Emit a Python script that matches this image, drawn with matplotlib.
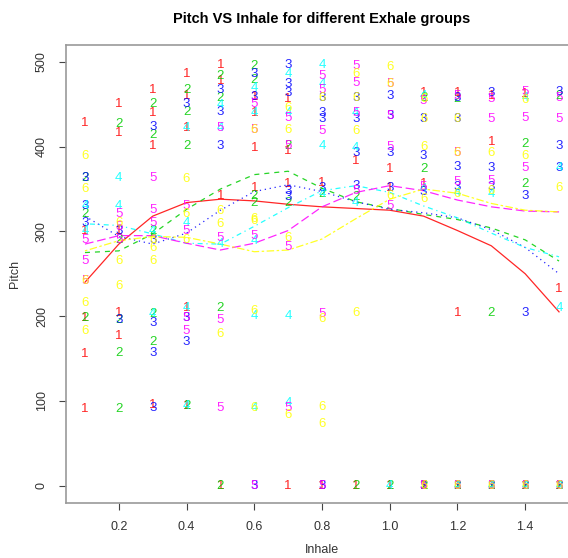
import matplotlib
matplotlib.use("Agg")
import matplotlib.pyplot as plt
import numpy as np

plt.rcParams['font.family'] = ['Liberation Sans', 'DejaVu Sans']

# pitch values per exhale group, keyed by inhale level
grp1 = {0.1: [428, 300, 198, 155, 90], 0.2: [450, 416, 300, 204, 176], 0.3: [467, 440, 401, 95],
        0.4: [486, 460, 422, 209, 94], 0.5: [496, 477, 342, 0], 0.6: [459, 440, 399, 351],
        0.7: [456, 395, 356, 0], 0.8: [357, 0], 0.9: [383, 0], 1.0: [374, 351, 0],
        1.1: [463, 356, 0], 1.2: [463, 204, 0], 1.3: [460, 405, 0], 1.4: [462, 0], 1.5: [232, 0]}
grp2 = {0.1: [363, 320, 198], 0.2: [427, 290, 195, 156, 90], 0.3: [450, 414, 300, 203, 169],
        0.4: [467, 441, 401, 94], 0.5: [483, 458, 210, 0], 0.6: [495, 479, 342, 333],
        0.7: [401, 333], 0.8: [344], 0.9: [340, 0], 1.0: [0], 1.1: [458, 374, 0],
        1.2: [456, 0], 1.3: [204, 0], 1.4: [403, 356, 0], 1.5: [460, 0]}
grp3 = {0.1: [363, 330, 310], 0.2: [300, 195], 0.3: [423, 290, 192, 156, 92],
        0.4: [450, 198, 169], 0.5: [467, 441, 401], 0.6: [486, 459, 0],
        0.7: [496, 474, 463, 348, 340], 0.8: [458, 440, 433, 351, 0], 0.9: [458, 433, 392, 354],
        1.0: [460, 436, 392, 351], 1.1: [433, 389, 346, 0], 1.2: [458, 433, 376, 352, 0],
        1.3: [463, 375, 352, 0], 1.4: [342, 204, 0], 1.5: [464, 401, 375, 0]}
grp4 = {0.1: [330, 300], 0.2: [363, 330], 0.3: [300, 203], 0.4: [422, 310, 209, 94],
        0.5: [449, 422, 285], 0.6: [469, 440, 289, 200, 92], 0.7: [486, 440, 200, 98],
        0.8: [496, 474, 401, 344], 0.9: [440, 399, 333], 1.0: [0], 1.1: [460, 350],
        1.2: [345, 0], 1.3: [344, 0], 1.4: [458, 0], 1.5: [375, 209, 0]}
grp5 = {0.1: [290, 265, 242], 0.2: [320, 305, 290], 0.3: [363, 325, 310], 0.4: [330, 300, 198, 182],
        0.5: [422, 292, 195, 91], 0.6: [450, 420, 295, 0], 0.7: [434, 401, 282, 92],
        0.8: [483, 467, 418, 203, 0], 0.9: [495, 475, 440, 348], 1.0: [474, 436, 400, 330],
        1.1: [454, 352, 0], 1.2: [460, 393, 358, 0], 1.3: [456, 433, 360, 0],
        1.4: [464, 434, 375, 0], 1.5: [458, 433, 0]}
grp6 = {0.1: [389, 350, 242, 216, 183], 0.2: [310, 265, 236], 0.3: [290, 280, 265],
        0.4: [362, 320, 290], 0.5: [324, 309, 179], 0.6: [420, 315, 312, 206, 92],
        0.7: [446, 420, 292, 83], 0.8: [458, 197, 93, 73], 0.9: [486, 458, 419, 204],
        1.0: [494, 474, 342], 1.1: [456, 433, 400, 338, 0], 1.2: [433, 392, 344, 0],
        1.3: [392, 348, 0], 1.4: [455, 389, 0], 1.5: [351, 0]}

# smoothed fit per group, read at each inhale level
curve_x = [0.1, 0.2, 0.3, 0.4, 0.5, 0.6, 0.7, 0.8, 0.9, 1.0, 1.1, 1.2, 1.3, 1.4, 1.5]
curve1 = [240, 285, 318, 334, 338, 336, 332, 329, 327, 325, 318, 301, 283, 250, 205]
curve2 = [275, 277, 297, 326, 350, 367, 371, 351, 335, 327, 320, 314, 304, 290, 265]
curve3 = [318, 294, 285, 298, 325, 347, 355, 347, 335, 326, 322, 316, 302, 281, 250]
curve4 = [309, 307, 297, 286, 285, 306, 328, 348, 354, 346, 330, 316, 298, 281, 270]
curve5 = [285, 295, 295, 286, 278, 286, 301, 329, 346, 354, 348, 337, 329, 324, 323]
curve6 = [277, 289, 294, 293, 285, 276, 278, 291, 315, 338, 350, 345, 333, 325, 323]

groups = [grp1, grp2, grp3, grp4, grp5, grp6]
curves = [curve1, curve2, curve3, curve4, curve5, curve6]
colors = ['#FF0000', '#00CD00', '#0000FF', '#00FFFF', '#FF00FF', '#FFFF00']
dashes = [None, (4, 4), (1, 3), (1, 3, 4, 3), (7, 3), (2, 2, 6, 2)]

fig = plt.figure(figsize=(5.68, 5.58), dpi=100)
ax = fig.add_axes([66 / 568, 55.5 / 558, 512 / 568, 457.5 / 558])

for g, (grp, col) in enumerate(zip(groups, colors)):
    for x, ys in grp.items():
        for y in ys:
            ax.text(x, y, str(g + 1), color=col, fontsize=9.5, ha='center', va='center', alpha=0.85)

for cv, col, ds in zip(curves, colors, dashes):
    ln, = ax.plot(curve_x, cv, color=col, lw=0.9, alpha=0.85)
    if ds is not None:
        ln.set_dashes(ds)

ax.set_xlim(0.044, 1.556)
ax.set_ylim(-20, 520)
ax.set_xticks([0.2, 0.4, 0.6, 0.8, 1.0, 1.2, 1.4])
ax.set_yticks([0, 100, 200, 300, 400, 500])
ax.set_yticklabels(['0', '100', '200', '300', '400', '500'], rotation=90, va='center')
ax.tick_params(length=5, width=0.8, color='#444444', labelsize=9, labelcolor='#333333', pad=8)
for s in ax.spines.values():
    s.set_color('#999999')
    s.set_linewidth(1.2)

ax.set_xlabel('Inhale', fontsize=9, color='#333333', labelpad=8)
ax.set_ylabel('Pitch', fontsize=9, color='#333333', labelpad=11)
ax.set_title('Pitch VS Inhale for different Exhale groups', fontsize=10.5, fontweight='bold', pad=16)

fig.savefig('out.png', dpi=100)
